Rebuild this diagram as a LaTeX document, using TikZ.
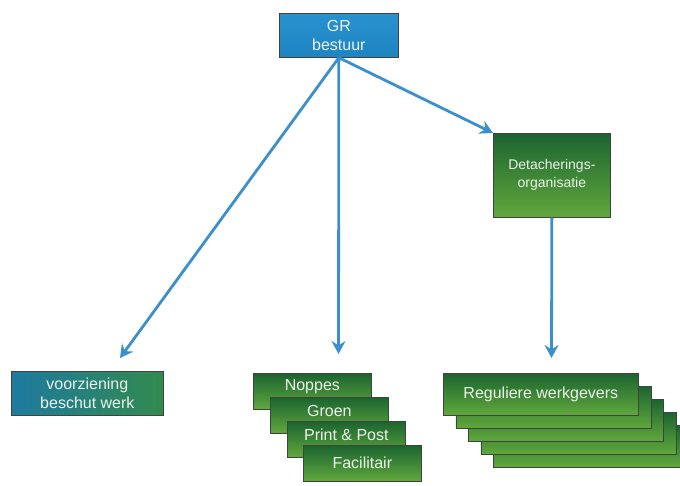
\documentclass[tikz,border=0pt]{standalone}
\usepackage{fontspec}
\setmainfont{Liberation Sans}
\usetikzlibrary{arrows.meta,calc}

\definecolor{govblue}{RGB}{30,132,194}
\definecolor{govblueTop}{RGB}{40,146,206}
\definecolor{arrowblue}{RGB}{58,143,204}
\definecolor{greenTop}{RGB}{28,100,48}
\definecolor{greenBot}{RGB}{96,168,60}
\definecolor{tealLeft}{RGB}{30,122,160}
\definecolor{greenRight}{RGB}{50,138,78}
\definecolor{boxtext}{RGB}{236,242,236}
\definecolor{boxedge}{RGB}{60,70,60}

\tikzset{
  box/.style={anchor=north west, inner sep=0pt, draw=boxedge, line width=0.7pt},
  bluebox/.style={box, top color=govblueTop, bottom color=govblue},
  greenbox/.style={box, top color=greenTop, bottom color=greenBot},
  mixbox/.style={box, left color=tealLeft, right color=greenRight},
  lbl/.style={text=boxtext, align=center, inner sep=0pt, font=\fontsize{16}{19}\selectfont},
  smalllbl/.style={lbl, font=\fontsize{14}{18}\selectfont},
  arr/.style={draw=arrowblue, line width=2.8pt, -{Stealth[length=13pt,width=14pt,inset=4.5pt]}},
}

\begin{document}
\begin{tikzpicture}[x=1pt,y=-1pt]
\useasboundingbox (0,0) rectangle (680,486);
\clip (0,0) rectangle (680,486);

% top: governing body
\node[bluebox, minimum width=119pt, minimum height=44pt] (gr) at (279,13) {};
\node[lbl] at (gr.center) {GR\\bestuur};

% secondment organisation
\node[greenbox, minimum width=117pt, minimum height=84pt] (detach) at (493,133) {};
\node[smalllbl] at (detach.center) {Detacherings-\\organisatie};

% sheltered work
\node[mixbox, minimum width=152pt, minimum height=44pt] (vbw) at (11,371) {};
\node[lbl] at (vbw.center) {voorziening\\beschut werk};

% stacked units in the middle
\node[greenbox, minimum width=118pt, minimum height=36pt] (noppes) at (253,373) {};
\node[lbl] at ([yshift=-14pt]noppes.north) {Noppes};
\node[greenbox, minimum width=118pt, minimum height=36pt] (groen) at (270,397) {};
\node[lbl] at ([yshift=-14pt]groen.north) {Groen};
\node[greenbox, minimum width=118pt, minimum height=36pt] (print) at (287,421) {};
\node[lbl] at ([yshift=-14pt]print.north) {Print \& Post};
\node[greenbox, minimum width=118pt, minimum height=36pt] (facil) at (303,445) {};
\node[lbl] at ([yshift=-18pt]facil.north) {Facilitair};

% stack of regular employers, back to front
\foreach \i/\n in {4/reg5,3/reg4,2/reg3,1/reg2}{
  \node[greenbox, minimum width=195pt, minimum height=42pt] (\n) at (443+12.5*\i,373+13*\i) {};
}
\node[greenbox, minimum width=195pt, minimum height=42pt] (reg1) at (443,373) {};
\node[lbl] at (reg1.center) {Reguliere werkgevers};

% free arrow ends
\coordinate (tipL) at (120,358);
\coordinate (tipM) at (338.5,354);
\coordinate (tipR) at (551.5,358);

% connectors
\draw[arr] (gr.south) -- (tipL);
\draw[arr] (gr.south) -- (tipM);
\draw[arr] (gr.south) -- (detach.north west);
\draw[arr] (detach.south) -- (tipR);
\end{tikzpicture}
\end{document}
